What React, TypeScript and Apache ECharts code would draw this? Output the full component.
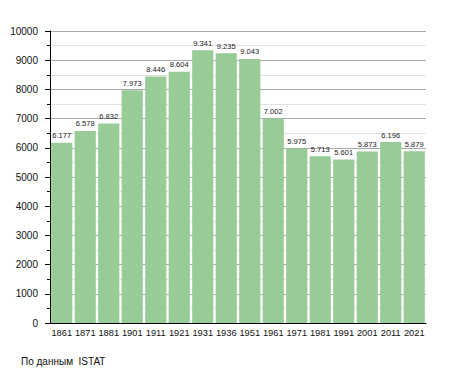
import React, { useEffect, useRef } from "react";
import * as echarts from "echarts";

const years = ["1861", "1871", "1881", "1901", "1911", "1921", "1931", "1936", "1951", "1961", "1971", "1981", "1991", "2001", "2011", "2021"];
const population = [6177, 6578, 6832, 7973, 8446, 8604, 9341, 9235, 9043, 7002, 5975, 5713, 5601, 5873, 6196, 5879];
const sourceText = "По данным  ISTAT";

const fmt = (v: number) => {
  const s = String(Math.round(v));
  return s.replace(/\B(?=(\d{3})+(?!\d))/g, ".");
};

const FONT = "Liberation Sans, Arial, sans-serif";

export default function App() {
  const ref = useRef<HTMLDivElement>(null);
  useEffect(() => {
    const chart = echarts.init(ref.current!, null, { renderer: "svg" });
    chart.setOption({
      animation: false,
      textStyle: { fontFamily: FONT },
      grid: { left: 50, right: 29, top: 31, bottom: 50, containLabel: false },
      xAxis: {
        type: "category",
        data: years,
        axisLine: { show: true, lineStyle: { color: "#000", width: 1 } },
        axisTick: { show: false },
        axisLabel: { color: "#111", fontSize: 9.3, margin: 5, interval: 0, fontFamily: FONT },
      },
      yAxis: {
        type: "value",
        min: 0,
        max: 10000,
        interval: 1000,
        axisLine: { show: true, lineStyle: { color: "#000", width: 1 } },
        axisTick: { show: true, length: 5, lineStyle: { color: "#000" } },
        minorTick: { show: true, splitNumber: 2, length: 3, lineStyle: { color: "#000" } },
        splitLine: { show: true, lineStyle: { color: "#aaaaaa", width: 1 } },
        minorSplitLine: { show: true, lineStyle: { color: "#e2e2e2", width: 1 } },
        axisLabel: { color: "#111", fontSize: 10, margin: 12, formatter: (v: number) => String(v) },
      },
      series: [
        {
          type: "bar",
          data: population,
          barCategoryGap: "10%",
          itemStyle: { color: "#97cc97" },
          label: {
            show: true,
            position: "top",
            distance: 3,
            fontSize: 7.5,
            color: "#222",
            formatter: (p: any) => fmt(p.value),
          },
        },
      ],
      graphic: [
        {
          type: "text",
          left: 21,
          top: 356,
          style: { text: sourceText, fontSize: 10, fill: "#111", fontFamily: FONT },
        },
      ],
    });
    return () => chart.dispose();
  }, []);
  return <div ref={ref} style={{ width: 455, height: 373, position: "absolute", left: 0, top: 0 }} />;
}
